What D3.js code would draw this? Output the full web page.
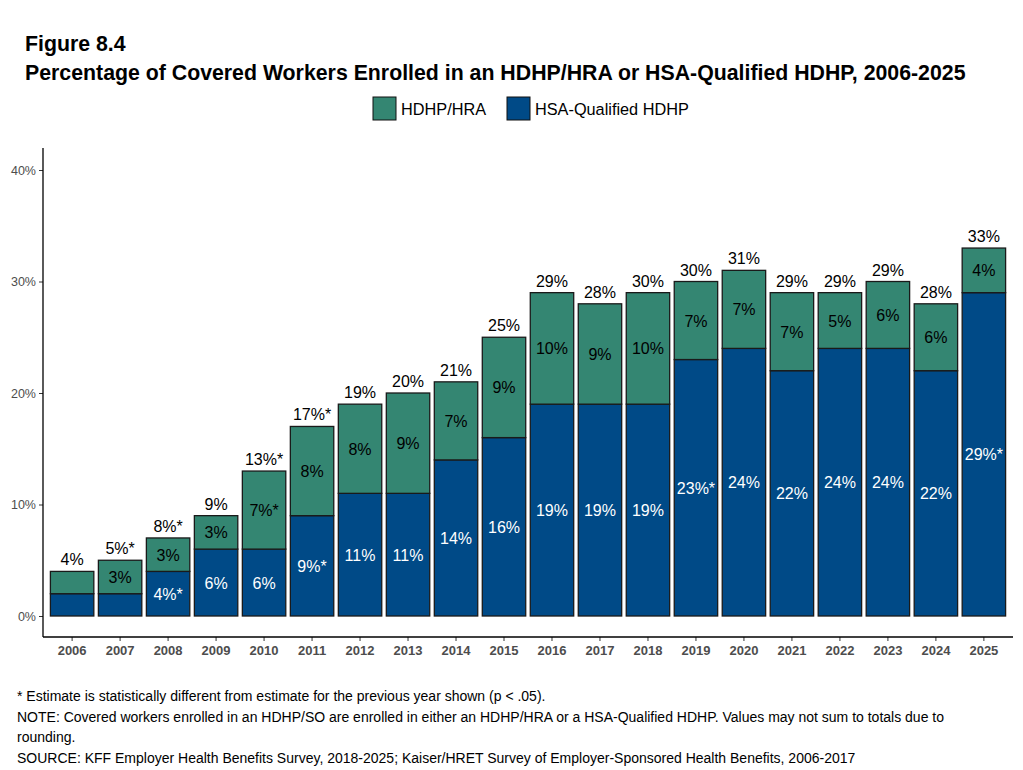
<!DOCTYPE html>
<html><head><meta charset="utf-8">
<script src="https://cdn.jsdelivr.net/npm/d3@7"></script>
<style>body{margin:0;background:#fff;font-family:"Liberation Sans",Arial,sans-serif;}</style>
</head><body>
<svg id="c" width="1023" height="770"></svg>
<script>
const years = ["2006","2007","2008","2009","2010","2011","2012","2013","2014","2015","2016","2017","2018","2019","2020","2021","2022","2023","2024","2025"];
const hsaValues = [2,2,4,6,6,9,11,11,14,16,19,19,19,23,24,22,24,24,22,29];
const hraValues = [2,3,3,3,7,8,8,9,7,9,10,9,10,7,7,7,5,6,6,4];
const totalLabels = ["4%","5%*","8%*","9%","13%*","17%*","19%","20%","21%","25%","29%","28%","30%","30%","31%","29%","29%","29%","28%","33%"];
const hraLabels = ["","3%","3%","3%","7%*","8%","8%","9%","7%","9%","10%","9%","10%","7%","7%","7%","5%","6%","6%","4%"];
const hsaLabels = ["","","4%*","6%","6%","9%*","11%","11%","14%","16%","19%","19%","19%","23%*","24%","22%","24%","24%","22%","29%*"];
const yTicks = [0,10,20,30,40];
const seriesNames = ["HDHP/HRA","HSA-Qualified HDHP"];
const colors = {"HDHP/HRA":"#348672","HSA-Qualified HDHP":"#004a87"};

const svg = d3.select("#c");
const pLeft = 43, pRight = 1013, pTop = 148, pBottom = 637;
const x = d3.scaleBand().domain(years).range([pLeft + 5, pRight - 5]).paddingInner(0.095).paddingOuter(0.05);
const y = d3.scaleLinear().domain([0,40]).range([616,170]);

// title
svg.append("text").attr("x",25).attr("y",51).attr("font-size",21.3).attr("font-weight","bold").text("Figure 8.4");
svg.append("text").attr("x",25).attr("y",80).attr("font-size",21.3).attr("font-weight","bold")
  .text("Percentage of Covered Workers Enrolled in an HDHP/HRA or HSA-Qualified HDHP, 2006-2025");

// legend
const leg = [{n:seriesNames[0], x:373, tx:401},{n:seriesNames[1], x:507, tx:535}];
leg.forEach(l=>{
  svg.append("rect").attr("x",l.x).attr("y",97).attr("width",23).attr("height",23)
    .attr("fill",colors[l.n]).attr("stroke","#111").attr("stroke-width",1);
  svg.append("text").attr("x",l.tx).attr("y",115).attr("font-size",16.3).text(l.n);
});

// bars
const data = years.map((yr,i)=>({yr, hsa:hsaValues[i], hra:hraValues[i], tl:totalLabels[i], hral:hraLabels[i], hsal:hsaLabels[i]}));
const stack = d3.stack().keys(["hsa","hra"])(data);
const g = svg.append("g");
stack.forEach(layer=>{
  const key = layer.key;
  g.selectAll(null).data(layer).join("rect")
    .attr("x",d=>x(d.data.yr)).attr("width",x.bandwidth())
    .attr("y",d=>y(d[1])).attr("height",d=>y(d[0])-y(d[1]))
    .attr("fill", key==="hsa"?colors["HSA-Qualified HDHP"]:colors["HDHP/HRA"])
    .attr("stroke","#1a1a1a").attr("stroke-width",1.3);
});
// labels
const hsaLayer = stack[0], hraLayer = stack[1];
g.selectAll(null).data(hsaLayer).join("text")
  .attr("x",d=>x(d.data.yr)+x.bandwidth()/2).attr("y",d=>(y(d[0])+y(d[1]))/2+6)
  .attr("text-anchor","middle").attr("font-size",16).attr("fill","#fff").text(d=>d.data.hsal);
g.selectAll(null).data(hraLayer).join("text")
  .attr("x",d=>x(d.data.yr)+x.bandwidth()/2).attr("y",d=>(y(d[0])+y(d[1]))/2+6)
  .attr("text-anchor","middle").attr("font-size",16).attr("fill","#000").text(d=>d.data.hral);
g.selectAll(null).data(hraLayer).join("text")
  .attr("x",d=>x(d.data.yr)+x.bandwidth()/2).attr("y",d=>y(d[1])-6)
  .attr("text-anchor","middle").attr("font-size",16).attr("fill","#000").text(d=>d.data.tl);

// axes
const yAxis = svg.append("g").attr("transform",`translate(${pLeft},0)`)
  .call(d3.axisLeft(y).tickValues(yTicks).tickFormat(d=>d+"%").tickSize(4));
yAxis.select(".domain").remove();
yAxis.append("line").attr("x1",0).attr("x2",0).attr("y1",pTop).attr("y2",pBottom).attr("stroke","#000").attr("stroke-width",1.3);
yAxis.selectAll(".tick line").attr("stroke","#333");
yAxis.selectAll(".tick text").attr("fill","#4d4d4d").attr("font-size",12.5).attr("font-family","Liberation Sans, Arial, sans-serif");

const xAxis = svg.append("g").attr("transform",`translate(0,${pBottom})`)
  .call(d3.axisBottom(x).tickSize(4));
xAxis.select(".domain").remove();
xAxis.append("line").attr("x1",pLeft).attr("x2",pRight).attr("y1",0).attr("y2",0).attr("stroke","#000").attr("stroke-width",1.3);
xAxis.selectAll(".tick line").attr("stroke","#333");
xAxis.selectAll(".tick text").attr("fill","#4d4d4d").attr("font-size",13).attr("font-weight","bold").attr("dy","0.85em")
  .attr("font-family","Liberation Sans, Arial, sans-serif");

// footnotes
const notes = ["* Estimate is statistically different from estimate for the previous year shown (p < .05).",
"NOTE: Covered workers enrolled in an HDHP/SO are enrolled in either an HDHP/HRA or a HSA-Qualified HDHP. Values may not sum to totals due to",
"rounding.",
"SOURCE: KFF Employer Health Benefits Survey, 2018-2025; Kaiser/HRET Survey of Employer-Sponsored Health Benefits, 2006-2017"];
notes.forEach((t,i)=>svg.append("text").attr("x",17).attr("y",701+i*20.5).attr("font-size",14).attr("fill","#000").text(t));
</script>
</body></html>
